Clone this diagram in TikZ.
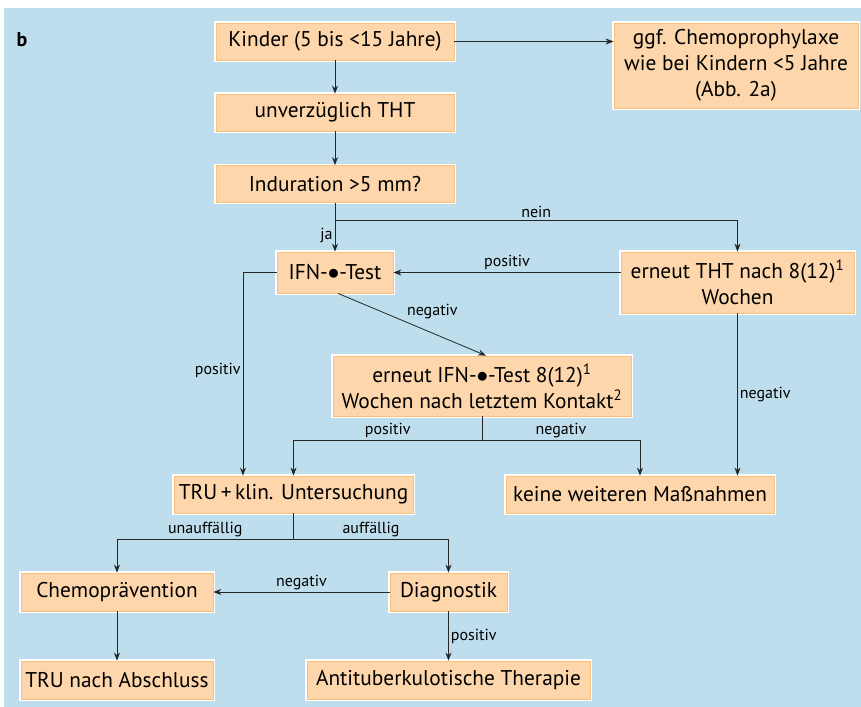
\documentclass[tikz,border=0pt]{standalone}
\usepackage{fontspec}
\setmainfont{PT Sans}
\usetikzlibrary{arrows.meta}
\definecolor{bgblue}{RGB}{190,222,237}
\definecolor{boxfill}{RGB}{253,214,171}
\definecolor{boxline}{RGB}{247,192,125}
\begin{document}
\begin{tikzpicture}[
  x=0.75pt, y=-0.75pt,
  stepbox/.style={draw=boxline, line width=0.6pt, fill=boxfill, inner sep=0pt,
    align=center, font=\fontsize{16}{19.5}\selectfont,
    preaction={draw=white, line width=2.4pt}},
  link/.style={draw=black!85, line width=0.6pt, -{Stealth[length=6pt,width=4.5pt]}},
  plain/.style={draw=black!85, line width=0.6pt},
  tag/.style={font=\fontsize{12}{14}\selectfont, inner sep=1.5pt},
]
  \useasboundingbox (0,0) rectangle (861,707);
  \fill[bgblue] (4,8) rectangle (861,707);

  \node[font=\bfseries\fontsize{15}{17}\selectfont] (panel) at (22,40) {b};

  \node[stepbox, minimum width=178.5pt, minimum height=27.75pt] (kinder) at (335,41.5) {Kinder (5 bis <15 Jahre)};
  \node[stepbox, minimum width=178.5pt, minimum height=27.75pt] (tht) at (335,112.5) {unverzüglich THT};
  \node[stepbox, minimum width=178.5pt, minimum height=27.75pt] (indur) at (335,184) {Induration >5 mm?};
  \node[stepbox, minimum width=183pt, minimum height=63.75pt] (chemoph) at (736,65.5) {ggf. Chemoprophylaxe\\wie bei Kindern <5 Jahre\\(Abb. 2a)};

  \node[stepbox, minimum width=87pt, minimum height=30.75pt] (ifn) at (335,272.5) {IFN-$\bullet$-Test};
  \node[stepbox, minimum width=174.75pt, minimum height=45.75pt] (thtagain) at (737.5,282.5) {erneut THT nach 8(12)\textsuperscript{1}\\Wochen};
  \node[stepbox, minimum width=223.5pt, minimum height=45pt] (ifnagain) at (482,386) {erneut IFN-$\bullet$-Test 8(12)\textsuperscript{1}\\Wochen nach letztem Kontakt\textsuperscript{2}};

  \node[stepbox, minimum width=179.25pt, minimum height=27.75pt] (tru) at (293.5,494.5) {TRU\,+\,klin. Untersuchung};
  \node[stepbox, minimum width=201pt, minimum height=27.75pt] (keine) at (640,494.5) {keine weiteren Maßnahmen};

  \node[stepbox, minimum width=144pt, minimum height=28.5pt] (chemo) at (117,592) {Chemoprävention};
  \node[stepbox, minimum width=87.75pt, minimum height=28.5pt] (diag) at (448.5,592) {Diagnostik};
  \node[stepbox, minimum width=144pt, minimum height=28.5pt] (truend) at (117,680) {TRU nach Abschluss};
  \node[stepbox, minimum width=212.25pt, minimum height=28.5pt] (therapy) at (448.5,680) {Antituberkulotische Therapie};

  \coordinate (split1) at (335,220);
  \coordinate (split2) at (482,440);
  \coordinate (split3) at (293.5,539);

  % top column
  \draw[link] (kinder) -- (tht);
  \draw[link] (tht) -- (indur);
  \draw[link] (kinder) -- (kinder -| chemoph.west);

  % THT result
  \draw[plain] (indur) -- (split1);
  \draw[link] (split1) -- node[tag, left] {ja} (ifn);
  \draw[link] (split1) -| node[tag, pos=0.25, above] {nein} (thtagain);
  \draw[link] (thtagain.west |- ifn) -- node[tag, above] {positiv} (ifn);
  \draw[link] ([xshift=2.25pt]ifn.south) -- node[tag, above right, pos=0.45] {negativ} ([xshift=3pt]ifnagain.north);
  \draw[link] (ifn.west) -| node[tag, pos=0.74, left] {positiv} ([xshift=-37.9pt]tru.north);
  \draw[link] (thtagain) -- node[tag, right] {negativ} (thtagain.south |- keine.north);

  % second IFN test
  \draw[plain] (ifnagain) -- (split2);
  \draw[link] (split2) -| node[tag, pos=0.25, above] {positiv} (tru);
  \draw[link] (split2) -| node[tag, pos=0.25, above] {negativ} (keine);

  % examination
  \draw[plain] (tru) -- (split3);
  \draw[link] (split3) -| node[tag, pos=0.25, above] {unauffällig} (chemo);
  \draw[link] (split3) -| node[tag, pos=0.25, above] {auffällig} (diag);
  \draw[link] (diag) -- node[tag, above] {negativ} (chemo);
  \draw[link] (chemo) -- (truend);
  \draw[link] (diag) -- node[tag, right] {positiv} (therapy);
\end{tikzpicture}
\end{document}
